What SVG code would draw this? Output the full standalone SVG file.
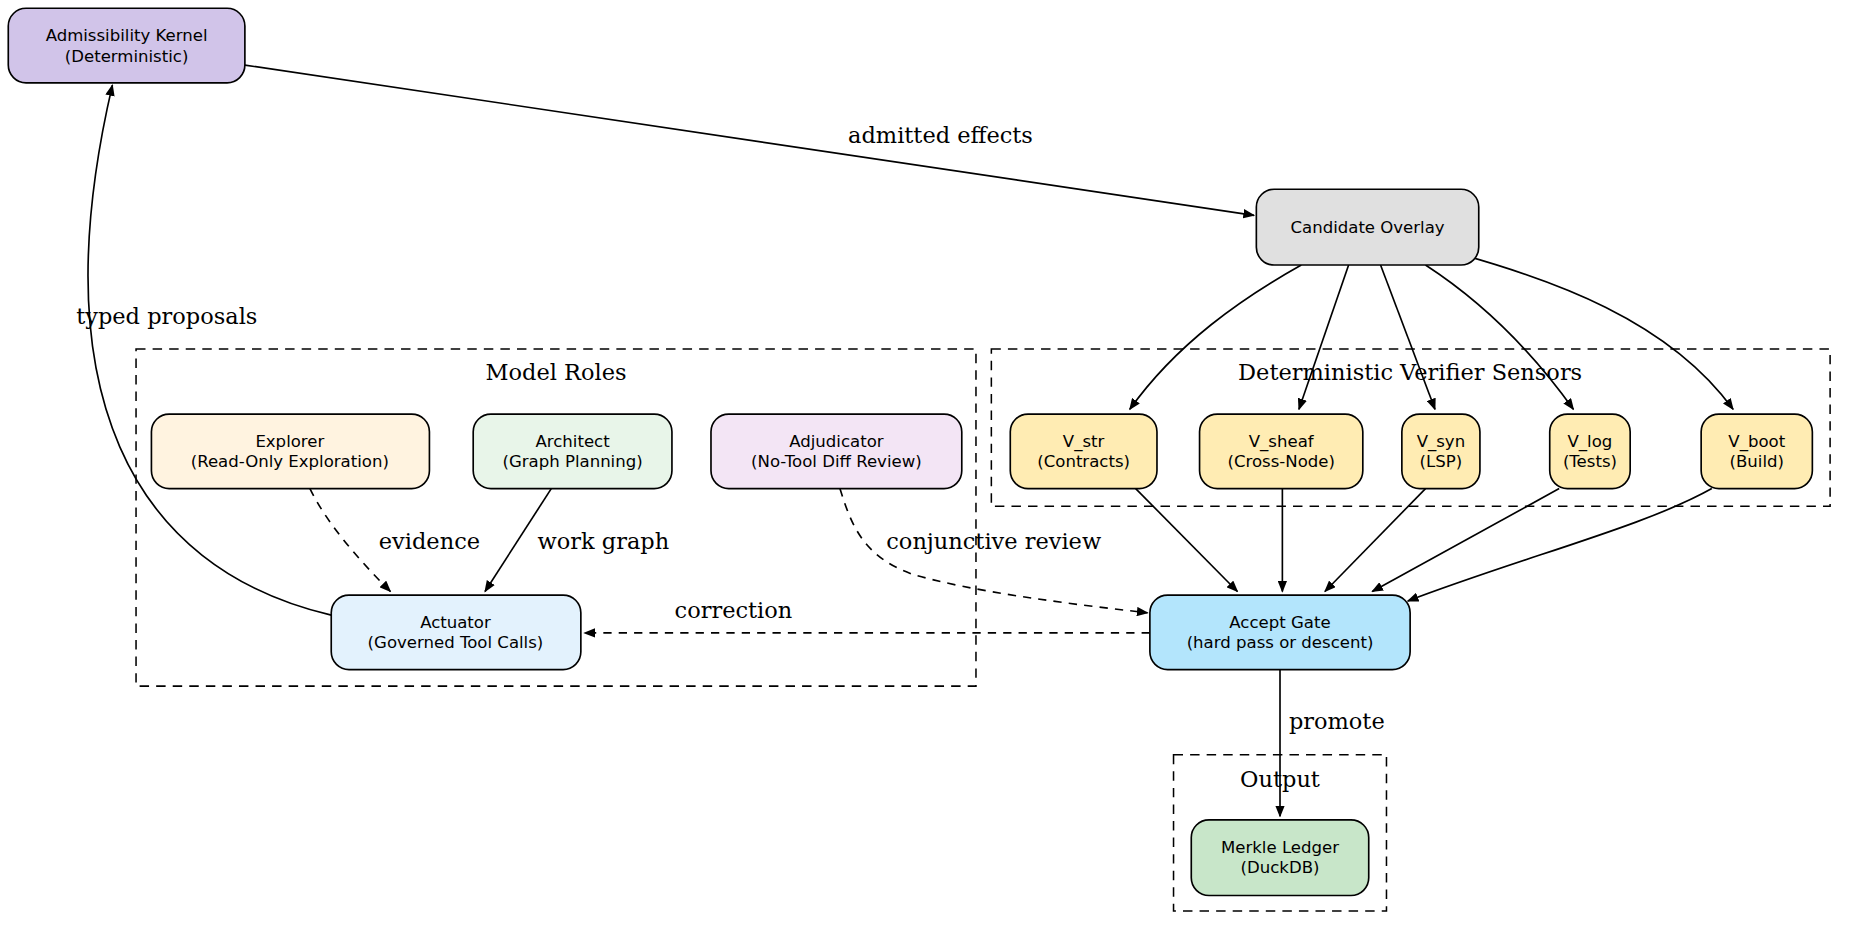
<svg xmlns="http://www.w3.org/2000/svg" width="1856" height="937" viewBox="0 0 1856 937">
<style>
.n rect{stroke:#000;stroke-width:1.4}
.n text{font-family:"DejaVu Sans",sans-serif;font-size:14px;text-anchor:middle}
.c{fill:none;stroke:#000;stroke-width:1.3;stroke-dasharray:8,6}
.cl{font-family:"DejaVu Serif",serif;font-size:19px;text-anchor:middle}
.e path{fill:none;stroke:#000;stroke-width:1.4}
.d{stroke-dasharray:7,6}
.el{font-family:"DejaVu Serif",serif;font-size:19px;text-anchor:middle}
</style>
<defs><marker id="a" markerWidth="10" markerHeight="8" refX="9" refY="4" orient="auto" markerUnits="userSpaceOnUse"><path d="M0,0L10,4L0,8Z" fill="#000"/></marker></defs>
<rect width="1856" height="937" fill="#fff"/>
<g transform="scale(1.183)">
<g id="clusters">
<rect class="c" x="115" y="295" width="710" height="285"/><text class="cl" x="470" y="321">Model Roles</text>
<rect class="c" x="838" y="295" width="709" height="133"/><text class="cl" x="1192" y="321">Deterministic Verifier Sensors</text>
<rect class="c" x="992" y="638" width="180" height="132"/><text class="cl" x="1082" y="665">Output</text>
</g>
<g class="e" id="edges">
<path d="M207,55L1060,182" marker-end="url(#a)"/><text class="el" x="795" y="121">admitted effects</text>
<path d="M280,520C110,480 35,330 95,72" marker-end="url(#a)"/><text class="el" x="141" y="274">typed proposals</text>
<path d="M1100,224C1050,252 995,290 955,346" marker-end="url(#a)"/>
<path d="M1140,224L1098,346" marker-end="url(#a)"/>
<path d="M1167,224L1213,346" marker-end="url(#a)"/>
<path d="M1205,224C1245,250 1290,290 1330,346" marker-end="url(#a)"/>
<path d="M1235,215C1310,236 1410,270 1465,346" marker-end="url(#a)"/>
<path d="M960,413L1046,500" marker-end="url(#a)"/>
<path d="M1084,413L1084,500" marker-end="url(#a)"/>
<path d="M1205,413L1120,500" marker-end="url(#a)"/>
<path d="M1318,413L1160,500" marker-end="url(#a)"/>
<path d="M1447,413C1390,445 1290,470 1190,508" marker-end="url(#a)"/>
<path class="d" d="M262,413C275,440 300,470 330,500" marker-end="url(#a)"/><text class="el" x="363" y="464">evidence</text>
<path d="M466,413L410,500" marker-end="url(#a)"/><text class="el" x="510" y="464">work graph</text>
<path class="d" d="M710,413C720,445 730,470 770,485C820,500 900,510 970,518" marker-end="url(#a)"/><text class="el" x="840" y="464">conjunctive review</text>
<path class="d" d="M972,535L494,535" marker-end="url(#a)"/><text class="el" x="620" y="522">correction</text>
<path d="M1082,566L1082,690" marker-end="url(#a)"/><text class="el" x="1130" y="616">promote</text>
</g>
<g class="n" id="kernel"><rect x="7" y="7" width="200" height="63" rx="15" fill="#d1c4e9"/><text x="107" y="35">Admissibility Kernel</text><text x="107" y="52">(Deterministic)</text></g>
<g class="n" id="overlay"><rect x="1062" y="160" width="188" height="64" rx="15" fill="#e0e0e0"/><text x="1156" y="197">Candidate Overlay</text></g>
<g class="n" id="explorer"><rect x="128" y="350" width="235" height="63" rx="15" fill="#fff3e0"/><text x="245" y="378">Explorer</text><text x="245" y="395">(Read-Only Exploration)</text></g>
<g class="n" id="architect"><rect x="400" y="350" width="168" height="63" rx="15" fill="#e8f5e9"/><text x="484" y="378">Architect</text><text x="484" y="395">(Graph Planning)</text></g>
<g class="n" id="adjudicator"><rect x="601" y="350" width="212" height="63" rx="15" fill="#f3e5f5"/><text x="707" y="378">Adjudicator</text><text x="707" y="395">(No-Tool Diff Review)</text></g>
<g class="n" id="vstr"><rect x="854" y="350" width="124" height="63" rx="15" fill="#ffecb3"/><text x="916" y="378">V_str</text><text x="916" y="395">(Contracts)</text></g>
<g class="n" id="vsheaf"><rect x="1014" y="350" width="138" height="63" rx="15" fill="#ffecb3"/><text x="1083" y="378">V_sheaf</text><text x="1083" y="395">(Cross-Node)</text></g>
<g class="n" id="vsyn"><rect x="1185" y="350" width="66" height="63" rx="15" fill="#ffecb3"/><text x="1218" y="378">V_syn</text><text x="1218" y="395">(LSP)</text></g>
<g class="n" id="vlog"><rect x="1310" y="350" width="68" height="63" rx="15" fill="#ffecb3"/><text x="1344" y="378">V_log</text><text x="1344" y="395">(Tests)</text></g>
<g class="n" id="vboot"><rect x="1438" y="350" width="94" height="63" rx="15" fill="#ffecb3"/><text x="1485" y="378">V_boot</text><text x="1485" y="395">(Build)</text></g>
<g class="n" id="actuator"><rect x="280" y="503" width="211" height="63" rx="15" fill="#e3f2fd"/><text x="385" y="531">Actuator</text><text x="385" y="548">(Governed Tool Calls)</text></g>
<g class="n" id="gate"><rect x="972" y="503" width="220" height="63" rx="15" fill="#b3e5fc"/><text x="1082" y="531">Accept Gate</text><text x="1082" y="548">(hard pass or descent)</text></g>
<g class="n" id="ledger"><rect x="1007" y="693" width="150" height="64" rx="15" fill="#c8e6c9"/><text x="1082" y="721">Merkle Ledger</text><text x="1082" y="738">(DuckDB)</text></g>
</g>
</svg>
